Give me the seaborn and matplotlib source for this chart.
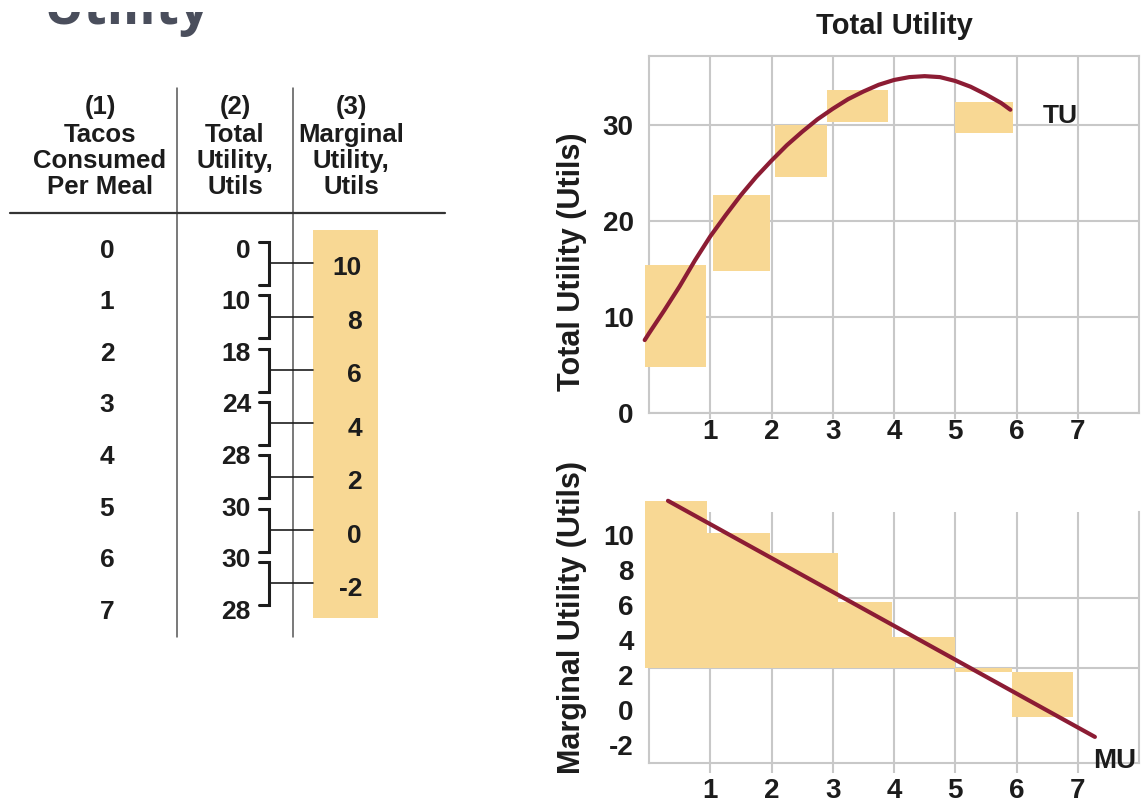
import numpy as np
import matplotlib
matplotlib.use("Agg")
import matplotlib.pyplot as plt
from matplotlib.patches import Rectangle
import seaborn as sns

# ---- table values ----
tacos = [0, 1, 2, 3, 4, 5, 6, 7]
total_utility = [0, 10, 18, 24, 28, 30, 30, 28]
marginal_utility = [10, 8, 6, 4, 2, 0, -2]
col_headers = [
    ["(1)", "Tacos", "Consumed", "Per Meal"],
    ["(2)", "Total", "Utility,", "Utils"],
    ["(3)", "Marginal", "Utility,", "Utils"],
]

# ---- total utility chart: shaded blocks and TU curve ----
tu_block_left = [-0.07, 1.04, 2.05, 2.90, 5.00]
tu_block_right = [0.93, 1.98, 2.90, 3.90, 5.95]
tu_block_bottom = [4.8, 14.8, 24.6, 30.3, 29.2]
tu_block_top = [15.4, 22.7, 30.0, 33.7, 32.4]
tu_curve_x = [-0.07, 0.0, 0.25, 0.5, 0.75, 1.0, 1.25, 1.5, 1.75, 2.0, 2.25, 2.5,
              2.75, 3.0, 3.25, 3.5, 3.75, 4.0, 4.25, 4.5, 4.75, 5.0, 5.25, 5.5,
              5.75, 5.9]
tu_curve_y = [7.6, 8.3, 10.7, 13.2, 15.9, 18.4, 20.6, 22.7, 24.6, 26.3, 27.9, 29.3,
              30.6, 31.7, 32.7, 33.5, 34.2, 34.7, 35.0, 35.1, 35.0, 34.6, 34.0, 33.2,
              32.3, 31.6]
tu_yticks = [0, 10, 20, 30]

# ---- marginal utility chart: shaded blocks and MU line ----
mu_block_left = [-0.07, 0.93, 1.98, 3.09, 3.96, 5.00, 5.92]
mu_block_right = [0.95, 1.98, 3.09, 3.96, 5.00, 5.92, 6.93]
mu_block_bottom = [2.4, 2.4, 2.4, 2.4, 2.4, 2.17, -0.4]
mu_block_top = [11.94, 10.1, 8.97, 6.17, 4.17, 2.4, 2.17]
mu_line_x = [0.31, 7.28]
mu_line_y = [11.94, -1.54]
mu_yticks = [-2, 0, 2, 4, 6, 8, 10]
mu_grid_levels = [2.4, 6.4]
x_ticks = [1, 2, 3, 4, 5, 6, 7]

BLOCK = "#f8d894"
CURVE = "#8c1c34"
GRID = "#c8c8c8"
INK = "#1c1c1c"

sns.set_theme(style="white")
plt.rcParams["font.family"] = ["Liberation Sans", "DejaVu Sans"]
plt.rcParams["font.weight"] = "bold"
plt.rcParams["axes.labelweight"] = "bold"
plt.rcParams["axes.unicode_minus"] = False

W, H = 1144, 805
fig = plt.figure(figsize=(W / 100, H / 100), dpi=100)
fig.patch.set_facecolor("white")


def fig_rect(left, top, right, bottom):
    return [left / W, 1 - bottom / H, (right - left) / W, (bottom - top) / H]


# ---------------- left: the schedule table ----------------
tab = fig.add_axes([0, 0, 1, 1])
tab.set_xlim(0, W)
tab.set_ylim(H, 0)
tab.axis("off")
tab.set_zorder(-1)

# slide heading, only its lower part shows below the top margin
tab.text(43, 24, "Utility", fontsize=38.5, family="Open Sans", weight="bold",
         color="#4a4e5c", ha="left", va="baseline", zorder=3)
tab.add_patch(Rectangle((0, 0), 320, 12.5, facecolor="white", edgecolor="none", zorder=4))

header_x = [100, 235, 351]
header_base = [114, 142, 168, 194]
for cx, lines in zip(header_x, col_headers):
    for base, line in zip(header_base, lines):
        tab.text(cx, base, line, fontsize=18.5, ha="center", va="baseline", color=INK)

tab.plot([177, 177], [88, 637], color="#555555", lw=1.1)
tab.plot([293, 293], [88, 637], color="#555555", lw=1.1)
tab.plot([10, 445], [213, 213], color="#333333", lw=1.6)

tab.add_patch(Rectangle((313, 230), 65, 388, facecolor=BLOCK, edgecolor="none"))

for i, (q, tu) in enumerate(zip(tacos, total_utility)):
    base = 257.5 + 51.6 * i
    tab.text(107, base, str(q), fontsize=19, ha="center", va="baseline", color=INK)
    tab.text(251, base, str(tu), fontsize=19, ha="right", va="baseline", color=INK)

for j, mu in enumerate(marginal_utility):
    top = 242 + 53.3 * j
    bot = top + 43
    mid = (top + bot) / 2
    tab.plot([259, 269, 269, 259], [top, top, bot, bot], color=INK, lw=2.2,
             solid_joinstyle="miter")
    tab.plot([269, 313], [mid, mid], color=INK, lw=1.2)
    tab.text(362, 275 + 53.5 * j, str(mu), fontsize=19, ha="right", va="baseline", color=INK)


# ---------------- shared chart styling ----------------
def style_chart(ax, tick_len, tick_pad):
    ax.set_xlim(0, 8)
    ax.set_xticks(x_ticks)
    ax.set_axisbelow(True)
    ax.grid(False)
    ax.xaxis.grid(True, color=GRID, lw=1.5)
    for s in ax.spines.values():
        s.set_color(GRID)
        s.set_linewidth(1.5)
        s.set_zorder(0.6)
    ax.tick_params(axis="x", length=tick_len, width=1.5, color=GRID, pad=tick_pad,
                   labelsize=20, labelcolor=INK, bottom=True)
    ax.tick_params(axis="y", length=0, pad=11, labelsize=20, labelcolor=INK, left=True)
    ax.set_facecolor("none")


def floating_blocks(ax, left, right, bottom, top):
    ax.bar(x=left, height=np.subtract(top, bottom), width=np.subtract(right, left),
           bottom=bottom, align="edge", color=BLOCK, linewidth=0, zorder=1,
           clip_on=False)


# ---------------- top right: total utility ----------------
ax1 = fig.add_axes(fig_rect(649, 56, 1139, 413))
style_chart(ax1, 4, 0.5)
ax1.set_ylim(0, 37.2)
ax1.set_yticks(tu_yticks)
ax1.yaxis.grid(True, color=GRID, lw=1.5)
floating_blocks(ax1, tu_block_left, tu_block_right, tu_block_bottom, tu_block_top)
sns.lineplot(x=tu_curve_x, y=tu_curve_y, ax=ax1, color=CURVE, linewidth=3,
             sort=False, estimator=None, zorder=3)
for ln in ax1.lines:
    ln.set_clip_on(False)
    ln.set_solid_joinstyle("round")
ax1.text(6.71, 31.0, "TU", fontsize=19, ha="center", va="center", color=INK)
ax1.set_title("Total Utility", fontsize=21, fontweight="bold", color=INK, pad=16)
ax1.set_ylabel("Total Utility (Utils)", fontsize=22, color=INK)
ax1.yaxis.set_label_coords(-0.127, 0.423)
ax1.set_xlabel("")

# ---------------- bottom right: marginal utility ----------------
ax2 = fig.add_axes(fig_rect(649, 512, 1139, 763))
style_chart(ax2, 7, 3.5)
ax2.set_ylim(-3.03, 11.3)
ax2.set_yticks(mu_yticks)
ax2.set_yticklabels([str(v) for v in mu_yticks])
ax2.spines["top"].set_visible(False)
for lvl in mu_grid_levels:
    ax2.axhline(lvl, color=GRID, lw=1.5, zorder=0.5)
floating_blocks(ax2, mu_block_left, mu_block_right, mu_block_bottom, mu_block_top)
sns.lineplot(x=mu_line_x, y=mu_line_y, ax=ax2, color=CURVE, linewidth=3,
             sort=False, estimator=None, zorder=3)
ax2.lines[-1].set_clip_on(False)
ax2.text(7.61, -2.91, "MU", fontsize=20, ha="center", va="center", color=INK)
ax2.set_ylabel("Marginal Utility (Utils)", fontsize=22, color=INK)
ax2.yaxis.set_label_coords(-0.127, 0.578)
ax2.set_xlabel("")

fig.savefig("out.png", dpi=100, facecolor="white")
